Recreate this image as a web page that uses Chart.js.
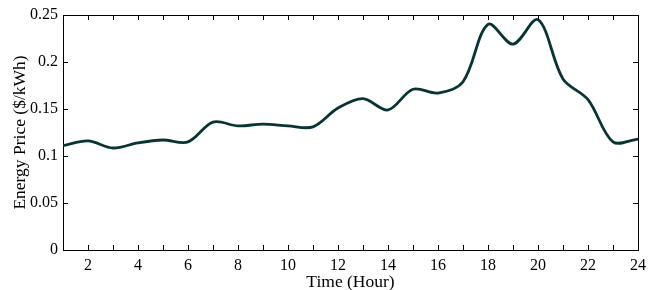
<!DOCTYPE html>
<html>
<head>
<meta charset="utf-8">
<script src="https://cdn.jsdelivr.net/npm/chart.js@4"></script>
<style>
  html, body { margin: 0; padding: 0; background: #fff; }
  #wrap { width: 660px; height: 290px; }
</style>
</head>
<body>
<div id="wrap"><canvas id="myChart"></canvas></div>
<script>
const hours = [1, 2, 3, 4, 5, 6, 7, 8, 9, 10, 11, 12, 13, 14, 15, 16, 17, 18, 19, 20, 21, 22, 23, 24];
const price = [0.111, 0.116, 0.1085, 0.114, 0.117, 0.115, 0.136, 0.132, 0.134, 0.132, 0.131, 0.151,
               0.161, 0.149, 0.171, 0.167, 0.179, 0.240, 0.219, 0.245, 0.182, 0.160, 0.115, 0.118];
const yTicks = [0, 0.05, 0.1, 0.15, 0.2, 0.25];

const serif = "'Liberation Serif', 'DejaVu Serif', serif";

// inward tick marks on all four sides
const boxTicks = {
  id: 'boxTicks',
  afterDraw(chart) {
    const ctx = chart.ctx;
    const a = chart.chartArea;
    const xs = chart.scales.x, ys = chart.scales.y;
    ctx.save();
    ctx.strokeStyle = '#000';
    ctx.lineWidth = 1;
    ctx.beginPath();
    hours.forEach(h => {
      const px = Math.round(xs.getPixelForValue(h)) + 0.5;
      ctx.moveTo(px, a.bottom); ctx.lineTo(px, a.bottom - 5);
      ctx.moveTo(px, a.top); ctx.lineTo(px, a.top + 5);
    });
    yTicks.forEach(v => {
      const py = Math.round(ys.getPixelForValue(v)) + 0.5;
      ctx.moveTo(a.left, py); ctx.lineTo(a.left + 5, py);
      ctx.moveTo(a.right, py); ctx.lineTo(a.right - 5, py);
    });
    ctx.stroke();
    ctx.restore();
  }
};

new Chart(document.getElementById('myChart'), {
  type: 'line',
  data: {
    datasets: [{
      data: hours.map((h, i) => ({ x: h, y: price[i] })),
      borderColor: '#0a3434',
      borderWidth: 2.8,
      pointRadius: 0,
      fill: false,
      tension: 0.33
    }]
  },
  options: {
    responsive: true,
    maintainAspectRatio: false,
    animation: false,
    layout: { padding: { left: 0, top: 15, right: 22, bottom: 0 } },
    plugins: { legend: { display: false }, tooltip: { enabled: false } },
    scales: {
      x: {
        type: 'linear', min: 1, max: 24,
        afterBuildTicks: s => { s.ticks = hours.filter(h => h % 2 === 0).map(v => ({ value: v })); },
        afterFit: s => { s.height = 40; },
        grid: { drawOnChartArea: false, drawTicks: false },
        border: { display: true, color: '#000', width: 1 },
        ticks: { color: '#000', padding: 6, maxRotation: 0, font: { family: serif, size: 16 } },
        title: { display: true, text: 'Time (Hour)', color: '#000', padding: { top: 0, bottom: -1 }, font: { family: serif, size: 17.5, lineHeight: 1 } }
      },
      y: {
        min: 0, max: 0.25,
        afterBuildTicks: s => { s.ticks = yTicks.map(v => ({ value: v })); },
        afterFit: s => { s.width = 63; },
        grid: { drawOnChartArea: false, drawTicks: false },
        border: { display: true, color: '#000', width: 1 },
        ticks: { color: '#000', padding: 5, font: { family: serif, size: 16 }, callback: v => String(v) },
        title: { display: true, text: 'Energy Price ($/kWh)', color: '#000', padding: { top: 12, bottom: 0 }, font: { family: serif, size: 17.5, lineHeight: 1 } }
      },
      x2: {
        type: 'linear', position: 'top', min: 1, max: 24,
        afterFit: s => { s.height = 0; },
        grid: { drawOnChartArea: false, drawTicks: false },
        border: { display: true, color: '#000', width: 1 },
        ticks: { display: false }
      },
      y2: {
        position: 'right', min: 0, max: 0.25,
        afterFit: s => { s.width = 0; },
        grid: { drawOnChartArea: false, drawTicks: false },
        border: { display: true, color: '#000', width: 1 },
        ticks: { display: false }
      }
    }
  },
  plugins: [boxTicks]
});
</script>
</body>
</html>
